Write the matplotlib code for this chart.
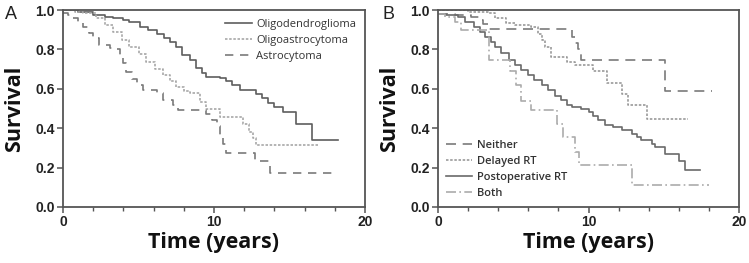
import matplotlib
matplotlib.use('Agg')
import matplotlib.pyplot as plt
from matplotlib.ticker import MultipleLocator

# panel A: histology
oligodendro_t = [0, 1.0, 2.0, 2.8, 3.3, 4.0, 4.4, 5.1, 5.6, 6.2, 6.7, 7.1, 7.5, 7.9, 8.4, 8.8, 9.2, 9.5,
                 10.4, 10.8, 11.2, 11.7, 12.8, 13.2, 13.6, 14.0, 14.6, 15.4, 16.5, 18.2]
oligodendro_s = [1.0, 0.99, 0.975, 0.965, 0.958, 0.95, 0.94, 0.915, 0.90, 0.88, 0.86, 0.84, 0.81, 0.77, 0.745,
                 0.705, 0.68, 0.66, 0.655, 0.64, 0.62, 0.593, 0.575, 0.555, 0.53, 0.51, 0.48, 0.42, 0.34, 0.34]
oligoastro_t = [0, 0.8, 1.3, 2.2, 2.8, 3.3, 3.9, 4.4, 5.0, 5.5, 6.1, 6.6, 7.1, 7.5, 8.0, 8.4, 9.05, 9.5,
                10.4, 11.9, 12.3, 12.6, 12.8, 16.9]
oligoastro_s = [1.0, 0.99, 0.983, 0.958, 0.925, 0.89, 0.85, 0.814, 0.775, 0.738, 0.70, 0.67, 0.64, 0.61,
                0.59, 0.577, 0.535, 0.50, 0.455, 0.42, 0.38, 0.35, 0.315, 0.315]
astro_t = [0, 0.3, 0.66, 1.0, 1.3, 1.7, 2.0, 2.4, 3.1, 3.5, 3.75, 4.0, 4.2, 4.6, 4.9, 5.3, 6.2, 6.6, 7.3,
           7.6, 9.5, 9.9, 10.2, 10.4, 10.6, 10.8, 12.7, 13.7, 18.1]
astro_s = [0.985, 0.975, 0.958, 0.935, 0.915, 0.885, 0.856, 0.822, 0.805, 0.80, 0.771, 0.73, 0.687, 0.65,
           0.619, 0.595, 0.577, 0.543, 0.518, 0.49, 0.47, 0.44, 0.41, 0.36, 0.32, 0.275, 0.235, 0.175, 0.175]

# panel B: radiotherapy
neither_t = [0, 1.1, 2.2, 2.7, 3.0, 3.3, 8.9, 9.1, 9.3, 9.5, 15.1, 18.2]
neither_s = [0.98, 0.975, 0.966, 0.95, 0.93, 0.905, 0.865, 0.83, 0.80, 0.745, 0.59, 0.59]
delayed_t = [0, 2.0, 3.3, 3.8, 4.5, 5.1, 6.2, 6.65, 6.9, 7.1, 7.5, 8.6, 9.1, 10.3, 11.2, 12.2, 12.6, 13.9, 16.6]
delayed_s = [1.0, 0.99, 0.983, 0.957, 0.935, 0.924, 0.915, 0.88, 0.847, 0.81, 0.763, 0.737, 0.72, 0.69,
             0.63, 0.575, 0.52, 0.445, 0.445]
postop_t = [0, 0.5, 1.3, 1.8, 2.4, 2.8, 3.1, 3.5, 3.8, 4.2, 4.7, 5.1, 5.5, 6.0, 6.4, 6.9, 7.3, 7.8, 8.2, 8.6,
            8.9, 9.5, 10.0, 10.3, 10.6, 11.1, 11.6, 12.2, 12.9, 13.2, 13.5, 14.2, 14.4, 15.1, 16.0, 16.4, 17.4]
postop_s = [0.98, 0.975, 0.966, 0.94, 0.915, 0.89, 0.864, 0.84, 0.81, 0.78, 0.745, 0.72, 0.695, 0.67, 0.644,
            0.62, 0.593, 0.565, 0.542, 0.52, 0.508, 0.495, 0.483, 0.46, 0.44, 0.415, 0.405, 0.39, 0.373,
            0.355, 0.339, 0.32, 0.305, 0.27, 0.235, 0.19, 0.19]
both_t = [0, 0.45, 1.1, 1.55, 3.4, 4.8, 5.2, 5.5, 6.2, 7.9, 8.3, 9.1, 9.4, 12.9, 18.0]
both_s = [0.98, 0.965, 0.94, 0.898, 0.745, 0.69, 0.62, 0.54, 0.49, 0.42, 0.355, 0.28, 0.215, 0.11, 0.11]

fig = plt.figure(figsize=(7.49, 2.63), dpi=100)
axA = fig.add_axes([63 / 749, 1 - 207 / 263, 302 / 749, 197 / 263])
axB = fig.add_axes([438 / 749, 1 - 207 / 263, 301 / 749, 197 / 263])

lw = 1.2
axA.step(oligodendro_t, oligodendro_s, where='post', color='#5e5e5e', lw=lw, label='Oligodendroglioma')
axA.step(oligoastro_t, oligoastro_s, where='post', color='#a8a8a8', lw=lw, ls=(0, (1.5, 1)),
         label='Oligoastrocytoma')
axA.step(astro_t, astro_s, where='post', color='#7a7a7a', lw=lw, ls=(0, (5, 4)), label='Astrocytoma')

axB.step(neither_t, neither_s, where='post', color='#7a7a7a', lw=lw, ls=(0, (6, 4)), label='Neither')
axB.step(delayed_t, delayed_s, where='post', color='#9a9a9a', lw=lw, ls=(0, (1.5, 1)), label='Delayed RT')
axB.step(postop_t, postop_s, where='post', color='#6a6a6a', lw=lw, label='Postoperative RT')
axB.step(both_t, both_s, where='post', color='#ababab', lw=lw, ls=(0, (6, 2, 1, 2)), label='Both')

for ax, letter in [(axA, 'A'), (axB, 'B')]:
    ax.set_xlim(0, 20)
    ax.set_ylim(0, 1.0)
    ax.xaxis.set_major_locator(MultipleLocator(10))
    ax.xaxis.set_minor_locator(MultipleLocator(2))
    ax.set_yticks([0.0, 0.2, 0.4, 0.6, 0.8, 1.0])
    ax.set_yticklabels(['0.0', '0.2', '0.4', '0.6', '0.8', '1.0'])
    for s in ax.spines.values():
        s.set_color('#555555')
        s.set_linewidth(1.3)
    ax.tick_params(which='major', length=4, width=1.1, color='#555555', labelsize=10, pad=2,
                   labelcolor='#222222')
    ax.tick_params(which='minor', length=3, width=1.0, color='#555555')
    for lab in ax.get_xticklabels() + ax.get_yticklabels():
        lab.set_fontfamily('Liberation Sans')
        lab.set_fontweight('bold')
    ax.set_xlabel('Time (years)', family='Open Sans', fontweight='bold', fontsize=15.5,
                  color='#111111', labelpad=2)
    ax.set_ylabel('Survival', family='Open Sans', fontweight='bold', fontsize=15.5,
                  color='#111111', labelpad=7)

fig.text(5 / 749, 1 - 19 / 263, 'A', fontsize=13, family='Liberation Sans', color='#222222')
fig.text(382 / 749, 1 - 19 / 263, 'B', fontsize=13, family='Liberation Sans', color='#222222')

axA.legend(loc='upper right', frameon=False, prop={'family': 'Open Sans', 'size': 8},
           handlelength=2.4, handletextpad=0.4, labelspacing=0.45, borderaxespad=0.4,
           labelcolor='#333333')
axB.legend(loc='lower left', frameon=False, prop={'family': 'Open Sans', 'size': 8, 'weight': 'semibold'},
           handlelength=2.4, handletextpad=0.4, labelspacing=0.45, borderaxespad=0.3,
           labelcolor='#333333')

fig.savefig('out.png', dpi=100)
